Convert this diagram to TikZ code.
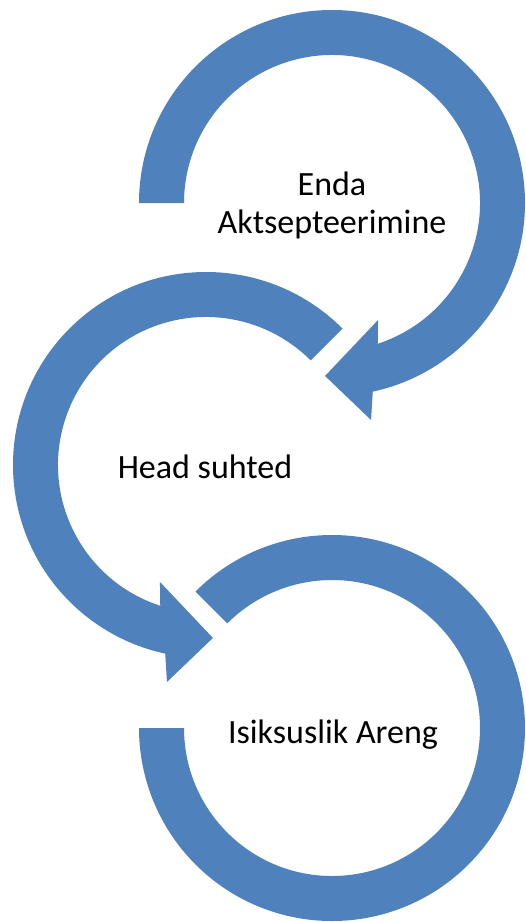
\documentclass[tikz,border=0pt]{standalone}
\usepackage{fontspec}
\setmainfont{Carlito}
\usetikzlibrary{calc}
\definecolor{arrowBlue}{HTML}{4F81BD}
\newcommand{\ringOuter}{193}
\newcommand{\ringInner}{148}
\tikzset{
  ringarrow/.style={fill=arrowBlue, draw=none},
  ringlabel/.style={font=\fontsize{34}{38}\selectfont, align=center, inner sep=0pt}
}

\begin{document}
\begin{tikzpicture}[x=1pt, y=1pt]
   \useasboundingbox (0,0) rectangle (526,-922);
   \coordinate (topCentre) at (332,-203);
   \coordinate (midCentre) at (206,-465);
   \coordinate (lowCentre) at (332,-728);

   % upper ring, head turning back to the left
   \fill[ringarrow] ($(topCentre)+(180:\ringOuter)$)
      arc[start angle=180, end angle=-77.8, radius=\ringOuter]
      -- ($(topCentre)+(-79.8:220.5)$) -- ($(topCentre)+(-92.3:173.1)$)
      -- ($(topCentre)+(-68.5:125.7)$) -- ($(topCentre)+(-72:\ringInner)$)
      arc[start angle=-72, end angle=180, radius=\ringInner] -- cycle;

   % middle ring, head turning to the right
   \fill[ringarrow] ($(midCentre)+(45:\ringOuter)$)
      arc[start angle=45, end angle=257.8, radius=\ringOuter]
      -- ($(midCentre)+(259.8:220.5)$) -- ($(midCentre)+(272.3:173.1)$)
      -- ($(midCentre)+(248.5:125.7)$) -- ($(midCentre)+(252:\ringInner)$)
      arc[start angle=252, end angle=45, radius=\ringInner] -- cycle;

   % lower ring, no head
   \fill[ringarrow] ($(lowCentre)+(135:\ringOuter)$)
      arc[start angle=135, end angle=-180, radius=\ringOuter]
      -- ($(lowCentre)+(180:\ringInner)$)
      arc[start angle=-180, end angle=135, radius=\ringInner] -- cycle;

   \node[ringlabel] (acceptLabel) at (332,-205) {Enda\\Aktsepteerimine};
   \node[ringlabel, anchor=base] (relationsLabel) at (205,-478) {Head suhted};
   \node[ringlabel, anchor=base] (growthLabel) at (333,-743) {Isiksuslik Areng};
\end{tikzpicture}
\end{document}
